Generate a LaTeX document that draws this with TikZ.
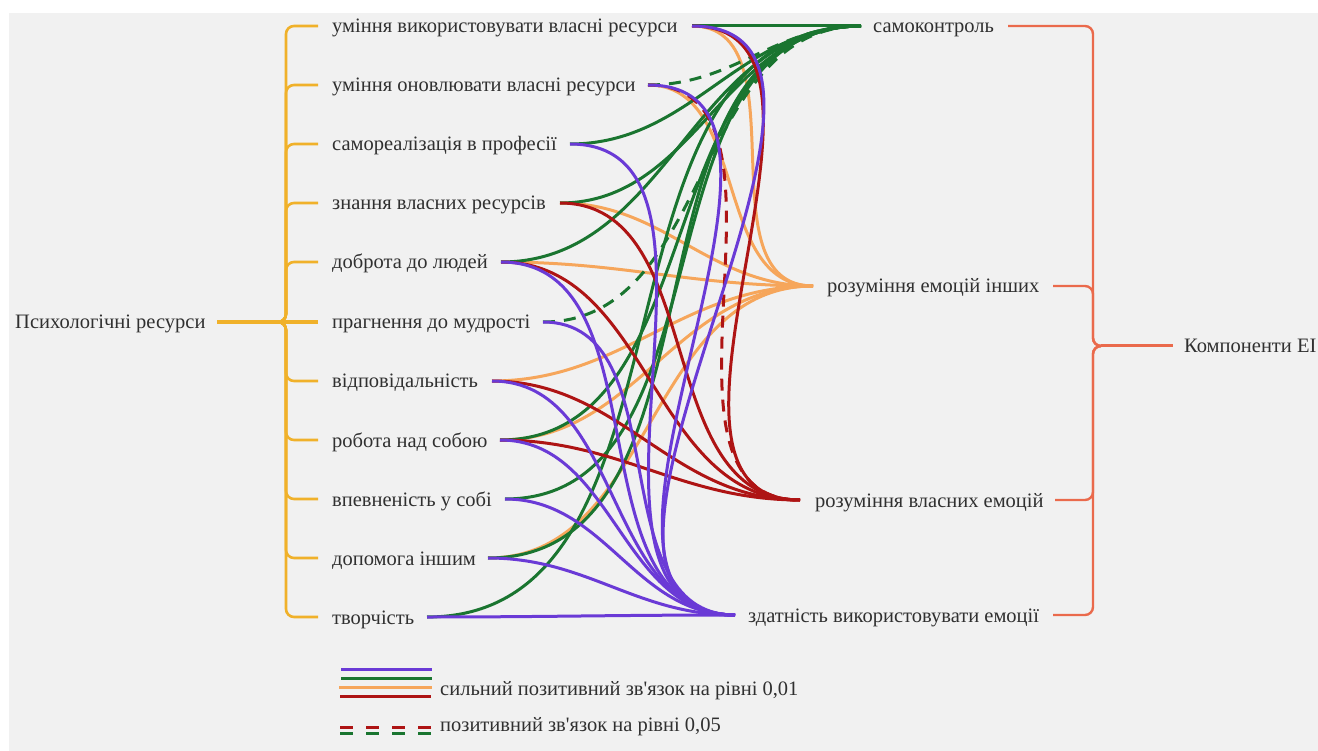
\documentclass[tikz,border=0pt]{standalone}
\usepackage{fontspec}
\setmainfont{Liberation Serif}
\definecolor{bgc}{HTML}{F1F1F1}
\definecolor{txtc}{HTML}{303030}
\definecolor{lbr}{HTML}{F0B12A}
\definecolor{rbr}{HTML}{EA6A4C}
\definecolor{pur}{HTML}{6A3AD6}
\definecolor{grn}{HTML}{1A7530}
\definecolor{org}{HTML}{F6A65B}
\definecolor{dred}{HTML}{AE1414}
\begin{document}
\begin{tikzpicture}[x=1pt,y=-1pt,
  lbl/.style={font=\fontsize{20.5}{24}\selectfont, text=txtc, inner sep=0pt, anchor=base west},
  conn/.style={line width=3pt},
  sig/.style={dash pattern=on 12pt off 9pt},
  lb/.style={draw=lbr, line width=2.6pt, rounded corners=8pt},
  rb/.style={draw=rbr, line width=2.4pt, rounded corners=8pt},
  curve/.style={out=0, in=180}
]
\useasboundingbox (0,0) rectangle (1318,751);
\fill[white] (0,0) rectangle (1318,751);
\fill[bgc] (9,13) rectangle (1318,751);

% left root
\node[lbl] (root) at (15,329) {Психологічні ресурси};
\coordinate (rootE) at (217,322);
\coordinate (lj) at (284,322);
\coordinate (lm) at (318,322);

% left items
\node[lbl] (n1) at (332,33) {уміння використовувати власні ресурси};
\node[lbl] (n2) at (332,92) {уміння оновлювати власні ресурси};
\node[lbl] (n3) at (332,151) {самореалізація в професії};
\node[lbl] (n4) at (332,210) {знання власних ресурсів};
\node[lbl] (n5) at (332,269) {доброта до людей};
\node[lbl] (n6) at (332,329) {прагнення до мудрості};
\node[lbl] (n7) at (332,388) {відповідальність};
\node[lbl] (n8) at (332,447) {робота над собою};
\node[lbl] (n9) at (332,506) {впевненість у собі};
\node[lbl] (n10) at (332,565) {допомога іншим};
\node[lbl] (n11) at (332,624) {творчість};

% left brace
\foreach \yy in {26,85,144,203,262,381,440,499,558,617}
  \draw[lb] (278,322) -| (286,\yy) -- (318,\yy);
\draw[lbr, line width=3.2pt] (lj) -- (lm);
\draw[lbr, line width=4pt] (rootE) -- (lj);

% right items
\node[lbl] (tAn) at (873,33) {самоконтроль};
\node[lbl] (tBn) at (827,293) {розуміння емоцій інших};
\node[lbl] (tCn) at (815,507) {розуміння власних емоцій};
\node[lbl] (tDn) at (748,622) {здатність використовувати емоції};
\node[lbl] (rroot) at (1184,353) {Компоненти ЕІ};

% right brace
\coordinate (rj) at (1101,346);
\draw[rb] (1008,26) -| (1093,346) -- (rj);
\draw[rb] (1053,286) -| (1093,346) -- (rj);
\draw[rb] (1055,500) -| (1093,346) -- (rj);
\draw[rb] (1053,615) -| (1093,346) -- (rj);
\draw[rbr, line width=3pt] (rj) -- (1173,346);

% ports
\coordinate (s1) at (692,26);
\coordinate (s2) at (648,85);
\coordinate (s3) at (570,144);
\coordinate (s4) at (560,203);
\coordinate (s5) at (501,262);
\coordinate (s6) at (543,322);
\coordinate (s7) at (492,381);
\coordinate (s8) at (500,440);
\coordinate (s9) at (505,499);
\coordinate (s10) at (488,558);
\coordinate (s11) at (427,617);
\coordinate (tA) at (861,26);
\coordinate (tB) at (813,286);
\coordinate (tC) at (800,500);
\coordinate (tD) at (735,615);

% orange -> B
\foreach \s in {1,2,4,5,7,8,10}
  \draw[conn, org] (s\s) to[curve] (tB);
% green -> A
\foreach \s in {1,3,4,5,8,9,10,11}
  \draw[conn, grn] (s\s) to[curve] (tA);
\foreach \s in {2,6}
  \draw[conn, grn, sig] (s\s) to[curve] (tA);
% red -> C
\foreach \s in {1,4,5,7,8}
  \draw[conn, dred] (s\s) to[curve] (tC);
\draw[conn, dred, sig] (s2) to[curve] (tC);
% purple -> D
\foreach \s in {1,2,3,5,6,7,8,9,10,11}
  \draw[conn, pur] (s\s) to[curve] (tD);

% legend
\coordinate (l1a) at (341,669); \coordinate (l1b) at (432,669);
\coordinate (l2a) at (341,678); \coordinate (l2b) at (432,678);
\coordinate (l3a) at (339,687); \coordinate (l3b) at (432,687);
\coordinate (l4a) at (340,696); \coordinate (l4b) at (431,696);
\draw[pur, line width=3pt] (l1a) -- (l1b);
\draw[grn, line width=3pt] (l2a) -- (l2b);
\draw[org, line width=3pt] (l3a) -- (l3b);
\draw[dred, line width=3pt] (l4a) -- (l4b);
\node[lbl] (leg1) at (440,695) {сильний позитивний зв\textquotesingle язок на рівні 0,01};
\coordinate (d1a) at (340,727); \coordinate (d1b) at (433,727);
\coordinate (d2a) at (340,733); \coordinate (d2b) at (433,733);
\draw[dred, line width=3pt, dash pattern=on 13pt off 13pt] (d1a) -- (d1b);
\draw[grn, line width=3pt, dash pattern=on 13pt off 13pt] (d2a) -- (d2b);
\node[lbl] (leg2) at (440,731) {позитивний зв\textquotesingle язок на рівні 0,05};
\end{tikzpicture}
\end{document}
